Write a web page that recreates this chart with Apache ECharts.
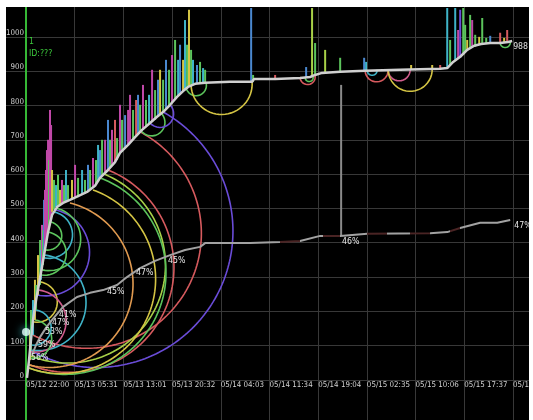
<!DOCTYPE html>
<html>
<head>
<meta charset="utf-8">
<script src="https://cdn.jsdelivr.net/npm/echarts@6/dist/echarts.min.js"></script>
<style>
  html, body { margin: 0; padding: 0; background: #fff; width: 533px; height: 420px; overflow: hidden; }
  #chart { position: absolute; left: 6px; top: 7px; width: 523px; height: 413px; background: #000; }
</style>
</head>
<body>
<div id="chart"></div>
<script>
// Time axis is in minutes after 05/12 22:00; one tick every 450.75 minutes.
const TICK_STEP = 450.75;
const xTickLabels = ['05/12 22:00', '05/13 05:31', '05/13 13:01', '05/13 20:32', '05/14 04:03',
  '05/14 11:34', '05/14 19:04', '05/15 02:35', '05/15 10:06', '05/15 17:37', '05/16 01:07'];
const yTicks = [0, 100, 200, 300, 400, 500, 600, 700, 800, 900, 1000];

// Cumulative total
const mainTimes = [9, 28, 46, 65, 93, 130, 167, 204, 241, 287, 343, 407, 482, 565, 639, 685, 759, 824, 870, 945,
  1009, 1074, 1148, 1213, 1269, 1334, 1398, 1454, 1500, 1565, 1658, 1889, 2093, 2111, 2306, 2537, 2630, 2676, 2741, 2908,
  3139, 3463, 3834, 3899, 3954, 4019, 4084, 4148, 4213, 4297, 4389, 4463, 4500];
const mainValues = [6, 58, 117, 175, 233, 297, 364, 431, 481, 504, 516, 525, 536, 548, 566, 589, 612, 635, 662, 685,
  708, 729, 749, 767, 781, 802, 825, 842, 854, 863, 866, 869, 869, 877, 877, 880, 883, 889, 895, 898,
  901, 904, 907, 909, 927, 942, 962, 974, 979, 982, 982, 985, 988];

// Ratio line
const pctTimes = [56, 93, 130, 185, 241, 343, 472, 593, 713, 843, 935, 1056, 1195, 1334, 1472, 1611, 1658, 2074, 2352, 2537,
  2723, 2908, 3158, 3741, 3899, 4019, 4204, 4362, 4482];
const pctValues = [73, 102, 125, 152, 175, 213, 242, 254, 262, 277, 300, 326, 347, 364, 379, 388, 399, 399, 402, 405,
  420, 420, 426, 428, 431, 443, 458, 458, 466];
// Stretches of the ratio line where it stays flat are drawn dark
const pctFlatRanges = [[2352, 2537], [2750, 2908], [3158, 3343], [3556, 3741], [3926, 4019]];
const pctLabelTimes = [46, 111, 176, 241, 306, 750, 1019, 1315, 2926, 4519];
const pctLabelValues = [64, 102, 140, 166, 189, 257, 312, 347, 402, 449];
const pctLabelTexts = ['56%', '59%', '53%', '47%', '41%', '45%', '47%', '45%', '46%', '47%'];

// Spikes: time, low, high, colour key
const barTimes = [37, 46, 65, 83, 93, 111, 130, 139, 148, 157, 167, 176, 185, 194, 204, 213, 222, 232, 241, 259,
  278, 296, 315, 333, 352, 370, 389, 426, 454, 482, 519, 546, 574, 593, 620, 648, 667, 685, 704, 732,
  759, 778, 796, 824, 843, 870, 889, 917, 945, 963, 991, 1019, 1037, 1056, 1083, 1111, 1139, 1167, 1195, 1222,
  1241, 1269, 1296, 1324, 1352, 1380, 1408, 1426, 1454, 1472, 1491, 1509, 1528, 1546,
  1583, 1611, 1639, 1658, 2084, 2102, 2306, 2593, 2648, 2676, 2769, 2908, 2917, 3130, 3148, 3565, 3760, 3834, 3899, 3926,
  3973, 4000, 4019, 4047, 4065, 4084, 4111, 4130, 4158, 4195, 4223, 4260, 4297, 4389, 4426, 4454];
const barLows = [58, 87, 131, 175, 204, 248, 277, 292, 321, 335, 364, 379, 394, 408, 431, 443, 466, 481, 490, 496,
  504, 507, 510, 513, 516, 519, 522, 528, 531, 533, 539, 542, 548, 554, 560, 568, 577, 589, 595, 603,
  612, 618, 627, 635, 641, 662, 665, 676, 685, 694, 703, 708, 717, 723, 729, 737, 746, 752, 758, 770,
  775, 781, 790, 799, 810, 819, 828, 834, 842, 845, 851, 854, 857, 860,
  863, 863, 866, 866, 869, 869, 877, 880, 883, 886, 895, 898, 420, 901, 901, 904, 907, 907, 909, 918,
  930, 936, 939, 947, 956, 962, 965, 968, 971, 977, 979, 979, 982, 982, 982, 985];
const barHighs = [146, 204, 233, 292, 277, 364, 408, 379, 452, 437, 525, 554, 612, 670, 700, 641, 787, 743, 612, 583,
  568, 598, 554, 583, 568, 612, 568, 583, 627, 589, 612, 583, 627, 612, 647, 641, 685, 670, 700, 700,
  758, 700, 729, 758, 705, 802, 758, 772, 787, 831, 787, 816, 831, 802, 860, 816, 831, 904, 845, 875,
  904, 875, 933, 904, 947, 991, 933, 977, 933, 1049, 977, 1079, 962, 933,
  918, 927, 909, 904, 1084, 889, 889, 912, 1084, 982, 962, 939, 860, 939, 927, 918, 918, 918, 1084, 991,
  1084, 1020, 1079, 1084, 1035, 991, 1064, 1049, 1006, 1000, 1055, 997, 1003, 1012, 997, 1020];
const barColors = ['y', 'g', 'c', 'y', 'g', 'y', 'g', 'c', 'm', 'g', 'b', 'm', 'm', 'm', 'm', 'g', 'm', 'm', 'y', 'g',
  'c', 'g', 'y', 'm', 'g', 'c', 'g', 'y', 'm', 'g', 'c', 'g', 'b', 'g', 'm', 'g', 'c', 'b', 'g', 'm',
  'b', 'g', 'm', 'r', 'g', 'm', 'g', 'b', 'm', 'm', 'g', 'r', 'b', 'g', 'm', 'g', 'c', 'm', 'g', 'b',
  'y', 'g', 'b', 'g', 'm', 'g', 'c', 'b', 'y', 'c', 'g', 'y', 'g', 'c',
  'b', 'g', 'c', 'g', 'b', 'g', 'r', 'b', 'l', 'g', 'l', 'g', 'w', 'b', 'c', 'y', 'y', 'r', 'c', 'g',
  'c', 'm', 'v', 'g', 'g', 'y', 'g', 'm', 'g', 'y', 'g', 'g', 'b', 'r', 'y', 'r'];

// Arcs: half circles between two points of the total line
const arcFrom = [[37, 87], [65, 131], [37, 44], [46, 70], [28, 35], [28, 35], [28, 44], [46, 87], [102, 248], [167, 356],
  [176, 379], [148, 321], [139, 306], [74, 169], [46, 82], [37, 64], [46, 102], [1065, 726], [1148, 749], [1482, 851],
  [1528, 857], [2537, 880], [2584, 880], [3139, 901], [3158, 901], [3352, 904], [3352, 904], [4389, 982]];
const arcTo = [[1269, 781], [1056, 723], [759, 612], [722, 600], [685, 589], [620, 554], [407, 516], [176, 364], [269, 496], [259, 490],
  [222, 461], [278, 501], [204, 431], [130, 286], [120, 262], [83, 175], [93, 204], [1259, 775], [1334, 802], [1667, 866],
  [2093, 869], [2676, 886], [2658, 883], [3352, 904], [3250, 904], [3556, 904], [3760, 907], [4482, 985]];
const arcColors = ['v', 'r', 'r', 'l', 'g', 'y', 'o', 'c', 'v', 'c', 'g', 'g', 'g', 'y', 'p', 'g', 'c', 'g', 'v', 'g',
  'y', 'r', 'g', 'r', 'c', 'p', 'y', 'g'];

const markerPoint = [0, 140];

const PALETTE = {
  m: '#c048a8', g: '#5cc45c', l: '#a8d048', y: '#d4c444', o: '#e09a50', c: '#3fb4c8',
  b: '#4a88d0', r: '#d65a5e', p: '#d05c8c', v: '#6a4cd8', w: '#8a8a8a'
};
const GRID_COLOR = '#383838';
const RATIO_COLOR = '#a2a2a2', RATIO_FLAT_COLOR = '#4a2424';
const X_MAX = 4656, Y_MAX = 1087;

// Pick a narrow face for the small axis texts, sized so a time stamp is about 43px wide.
const TEXT_FONT = (function () {
  const ctx = document.createElement('canvas').getContext('2d');
  const sample = '05/12 22:00';
  const width = font => { ctx.font = font; return ctx.measureText(sample).width; };
  const mono = width('10px monospace');
  const options = [
    { weight: 'normal', family: "'Liberation Sans Narrow'" },
    { weight: 'normal', family: "'Arial Narrow'" },
    { weight: 'normal', family: "'DejaVu Sans Condensed'" }
  ];
  let pick = null;
  for (const o of options) {
    if (Math.abs(width(`10px ${o.family}, monospace`) - mono) > 0.5) { pick = o; break; }
  }
  if (!pick) {
    const plain = width("10px 'DejaVu Sans'");
    const cond = width("normal condensed 10px 'DejaVu Sans'");
    pick = cond < plain - 0.5
      ? { weight: 'condensed', family: "'DejaVu Sans'" }
      : { weight: 'normal', family: "'Liberation Sans', Arial, sans-serif" };
  }
  const w10 = width(`normal ${pick.weight} 10px ${pick.family}`);
  pick.size = Math.round(10 * 43 / w10 * 10) / 10;
  return pick;
})();
const textStyle = (color, scale) => ({
  color, fontFamily: TEXT_FONT.family, fontWeight: TEXT_FONT.weight,
  fontSize: Math.round(TEXT_FONT.size * (scale || 1) * 10) / 10
});

function renderArc(params, api) {
  const a = api.coord([api.value(0), api.value(1)]);
  const b = api.coord([api.value(2), api.value(3)]);
  const dx = b[0] - a[0], dy = b[1] - a[1];
  const len = Math.hypot(dx, dy) || 1;
  const r = len / 2, ux = dx / len, uy = dy / len, nx = -uy, ny = ux;
  const cx = (a[0] + b[0]) / 2, cy = (a[1] + b[1]) / 2;
  const n = Math.max(16, Math.ceil(r));
  const pts = [];
  for (let i = 0; i <= n; i++) {
    const th = Math.PI * i / n, c = Math.cos(th), s = Math.sin(th);
    pts.push([cx + r * (-c * ux + s * nx), cy + r * (-c * uy + s * ny)]);
  }
  return {
    type: 'polyline', shape: { points: pts },
    style: { stroke: PALETTE[arcColors[params.dataIndex]], fill: 'none', lineWidth: 1.6 }
  };
}

function renderBar(params, api) {
  const top = api.coord([api.value(0), api.value(2)]);
  const bot = api.coord([api.value(0), api.value(1)]);
  return {
    type: 'rect',
    shape: { x: top[0] - 1, y: top[1], width: 2, height: bot[1] - top[1] },
    style: { fill: PALETTE[barColors[params.dataIndex]] }
  };
}

// Percentage captions sit next to points of the ratio line.
function renderCaption(params, api) {
  const p = api.coord([api.value(0), api.value(1)]);
  const st = textStyle('#e6e6e6', 1.1);
  return {
    type: 'text', x: p[0], y: p[1],
    style: {
      text: pctLabelTexts[params.dataIndex], fill: st.color, fontSize: st.fontSize,
      fontFamily: st.fontFamily, fontWeight: st.fontWeight, align: 'left', verticalAlign: 'middle'
    }
  };
}

// Colour pieces along time for the ratio line
function ratioPieces() {
  const pieces = [];
  let from = 0;
  pctFlatRanges.forEach(([a, b]) => {
    pieces.push({ gte: from, lt: a, color: RATIO_COLOR });
    pieces.push({ gte: a, lt: b, color: RATIO_FLAT_COLOR });
    from = b;
  });
  pieces.push({ gte: from, lte: X_MAX, color: RATIO_COLOR });
  return pieces;
}

const xTickLabel = v => xTickLabels[Math.round(v / TICK_STEP)] || '';
const hiddenAxisParts = { axisLine: { show: false }, axisTick: { show: false }, axisLabel: { show: false } };
const splitLine = { show: true, showMaxLine: false, lineStyle: { color: GRID_COLOR, width: 1 } };

const chart = echarts.init(document.getElementById('chart'), null, { renderer: 'canvas' });
chart.setOption({
  backgroundColor: '#000',
  animation: false,
  title: {
    text: '1\nID:???', left: 23, top: 29, padding: 0,
    textStyle: { ...textStyle('#3cc83c', 1.1), lineHeight: 12 }
  },
  visualMap: {
    type: 'piecewise', show: false, seriesIndex: 2, dimension: 0,
    pieces: ratioPieces()
  },
  grid: [
    { left: 20, top: 0, right: 0, bottom: 40, outerBoundsMode: 'none', containLabel: false },
    { left: 0, width: 20, top: 0, bottom: 40, outerBoundsMode: 'none', containLabel: false },
    { left: 20, right: 0, top: 373, bottom: 0, outerBoundsMode: 'none', containLabel: false }
  ],
  xAxis: [
    {
      type: 'value', gridIndex: 0, min: 0, max: X_MAX, interval: TICK_STEP,
      axisLine: { show: false }, axisTick: { show: false },
      axisLabel: {
        formatter: xTickLabel, ...textStyle('#d2d2d2'),
        align: 'left', verticalAlign: 'top', margin: 1,
        showMinLabel: true, showMaxLabel: false, hideOverlap: false
      },
      splitLine
    },
    { type: 'value', gridIndex: 1, min: 0, max: 1, show: false },
    {
      type: 'value', gridIndex: 2, min: 0, max: X_MAX, interval: TICK_STEP,
      ...hiddenAxisParts, splitLine
    }
  ],
  yAxis: [
    {
      type: 'value', gridIndex: 0, min: 0, max: Y_MAX, interval: 100,
      axisLine: { show: true, lineStyle: { color: '#36b836', width: 2 } },
      axisTick: { show: false },
      axisLabel: {
        formatter: v => (yTicks.includes(v) ? String(v) : ''),
        ...textStyle('#d2d2d2'), margin: 2,
        verticalAlign: 'bottom', showMaxLabel: false
      },
      splitLine
    },
    {
      type: 'value', gridIndex: 1, min: 0, max: Y_MAX, interval: 100,
      ...hiddenAxisParts, splitLine
    },
    {
      type: 'value', gridIndex: 2, min: 0, max: 1,
      axisLine: { show: true, onZero: false, lineStyle: { color: '#36b836', width: 2 } },
      axisTick: { show: false }, axisLabel: { show: false }, splitLine: { show: false }
    }
  ],
  series: [
    {
      name: 'arcs', type: 'custom', xAxisIndex: 0, yAxisIndex: 0, clip: true, silent: true, z: 1,
      data: arcFrom.map((f, i) => [f[0], f[1], arcTo[i][0], arcTo[i][1]]),
      encode: { x: [0, 2], y: [1, 3] },
      renderItem: renderArc
    },
    {
      name: 'spikes', type: 'custom', xAxisIndex: 0, yAxisIndex: 0, clip: true, silent: true, z: 2,
      data: barTimes.map((t, i) => [t, barLows[i], barHighs[i]]),
      encode: { x: 0, y: [1, 2] },
      renderItem: renderBar
    },
    {
      name: 'ratio', type: 'line', xAxisIndex: 0, yAxisIndex: 0, z: 3,
      data: pctTimes.map((t, i) => [t, pctValues[i]]),
      symbol: 'none', lineStyle: { width: 2 }
    },
    {
      name: 'total', type: 'line', xAxisIndex: 0, yAxisIndex: 0, z: 4,
      data: mainTimes.map((t, i) => [t, mainValues[i]]),
      symbol: 'none', lineStyle: { color: '#d0d0d0', width: 2.5 },
      endLabel: {
        show: true, formatter: p => String(p.value[1]), ...textStyle('#e0e0e0', 1.1),
        distance: 1, offset: [0, 6]
      }
    },
    {
      name: 'ratio labels', type: 'custom', xAxisIndex: 0, yAxisIndex: 0, z: 5, silent: true,
      data: pctLabelTimes.map((t, i) => [t, pctLabelValues[i]]),
      encode: { x: 0, y: 1 },
      renderItem: renderCaption
    },
    {
      name: 'marker', type: 'scatter', xAxisIndex: 0, yAxisIndex: 0, z: 6, clip: false, silent: true,
      data: [markerPoint], symbolSize: 8,
      itemStyle: { color: '#e6ffff', shadowBlur: 8, shadowColor: '#3fe8f0' }
    }
  ]
});
</script>
</body>
</html>
